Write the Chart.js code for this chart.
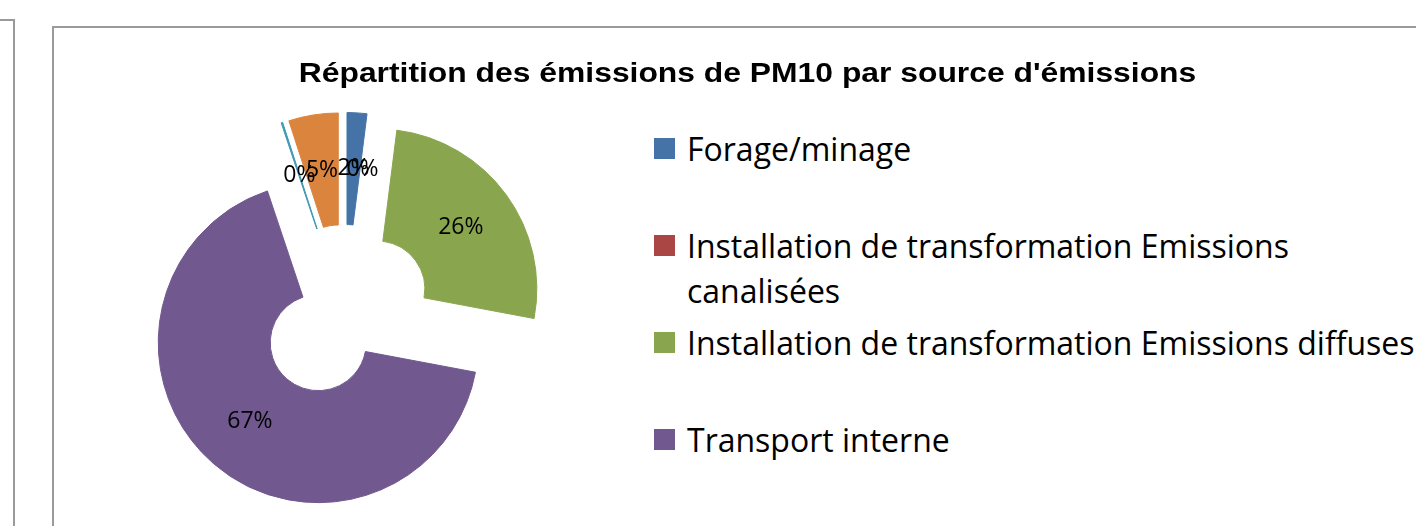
<!DOCTYPE html>
<html>
<head>
<meta charset="utf-8">
<title>Répartition des émissions de PM10</title>
<script src="https://cdn.jsdelivr.net/npm/chart.js@4.4.1/dist/chart.umd.min.js"></script>
<style>
  body { margin: 0; width: 1416px; height: 526px; overflow: hidden; background: #fff; position: relative; }
  .panel-left { position: absolute; left: -10px; top: 19px; width: 23px; height: 600px; border-top: 2px solid #9a9a9a; border-right: 2px solid #9a9a9a; }
  .frame { position: absolute; left: 52px; top: 26px; width: 1500px; height: 600px; border-top: 2px solid #9a9a9a; border-left: 2px solid #9a9a9a; }
  #chart { position: absolute; left: 54px; top: 28px; }
  #titre { position: absolute; left: 54px; top: 57px; width: 1387px; text-align: center; white-space: nowrap;
           font: bold 28px/32px "Liberation Sans", Arial, sans-serif; color: #000;
           transform: scaleX(1.137); transform-origin: 50% 50%; }
  .legend-row { position: absolute; left: 654px; height: 45px; white-space: nowrap; font: 32px/45px "Open Sans", sans-serif;
                font-variant-ligatures: none; color: #000; }
  .legend-row i { position: absolute; left: 0; top: 12px; width: 21px; height: 21px; }
  .legend-row span { position: absolute; left: 33px; top: 0; }
</style>
</head>
<body>
<div class="panel-left"></div>
<div class="frame"></div>
<canvas id="chart" width="581" height="569"></canvas>
<div id="titre"></div>
<div id="legend"></div>
<script>
// données (parts en %)
const titre = "Répartition des émissions de PM10 par source d'émissions";
const sources = [
  'Forage/minage',
  ['Installation de transformation Emissions', 'canalisées'],
  'Installation de transformation Emissions diffuses',
  'Transport interne',
  'Stockage',
  'Chargement/déchargement'
];
const parts = [2, 0, 26, 67, 0.15, 5];
const couleurs = ['#4572A7', '#AA4643', '#89A54E', '#71588F', '#4198AF', '#DB843D'];

const EXPLODE = 40;          // écartement des secteurs (px)
const LEGEND_VISIBLE = 4;    // les deux dernières entrées tombent sous le cadre
const ROW_PITCH = 97.3;

// chaque secteur est décalé le long de son angle médian
const explodePlugin = {
  id: 'explode',
  beforeDatasetDraw(chart, args) {
    const ctx = chart.ctx;
    args.meta.data.forEach(function(arc) {
      const mid = (arc.startAngle + arc.endAngle) / 2;
      ctx.save();
      ctx.translate(Math.cos(mid) * EXPLODE, Math.sin(mid) * EXPLODE);
      arc.draw(ctx);
      ctx.restore();
    });
    return false;
  }
};

const pctPlugin = {
  id: 'pctLabels',
  afterDatasetsDraw(chart) {
    const ctx = chart.ctx;
    const meta = chart.getDatasetMeta(0);
    const total = parts.reduce((a, b) => a + b, 0);
    ctx.save();
    ctx.font = '23px "Open Sans"';
    ctx.fillStyle = '#000';
    ctx.textAlign = 'center';
    ctx.textBaseline = 'middle';
    meta.data.forEach(function(arc, i) {
      const mid = (arc.startAngle + arc.endAngle) / 2;
      const d = EXPLODE + (arc.innerRadius + arc.outerRadius) / 2;
      ctx.fillText(Math.round(parts[i] / total * 100) + '%', arc.x + Math.cos(mid) * d, arc.y + Math.sin(mid) * d);
    });
    ctx.restore();
  }
};

document.getElementById('titre').textContent = titre;

const ctx = document.getElementById('chart').getContext('2d');
new Chart(ctx, {
  type: 'doughnut',
  data: {
    labels: sources,
    datasets: [{
      data: parts,
      backgroundColor: couleurs,
      borderColor: couleurs,
      borderWidth: 1
    }]
  },
  options: {
    responsive: false,
    animation: false,
    radius: 160,
    cutout: '30%',
    layout: { padding: 0 },
    plugins: {
      legend: { display: false },
      tooltip: { enabled: false },
      title: { display: false }
    }
  },
  plugins: [explodePlugin, pctPlugin]
});

// légende à droite
const legend = document.getElementById('legend');
for (let i = 0; i < LEGEND_VISIBLE; i++) {
  const row = document.createElement('div');
  row.className = 'legend-row';
  row.style.top = (125.5 + i * ROW_PITCH) + 'px';
  const txt = Array.isArray(sources[i]) ? sources[i].join('<br>') : sources[i];
  row.innerHTML = '<i style="background:' + couleurs[i] + '"></i><span>' + txt + '</span>';
  legend.appendChild(row);
}
</script>
</body>
</html>
